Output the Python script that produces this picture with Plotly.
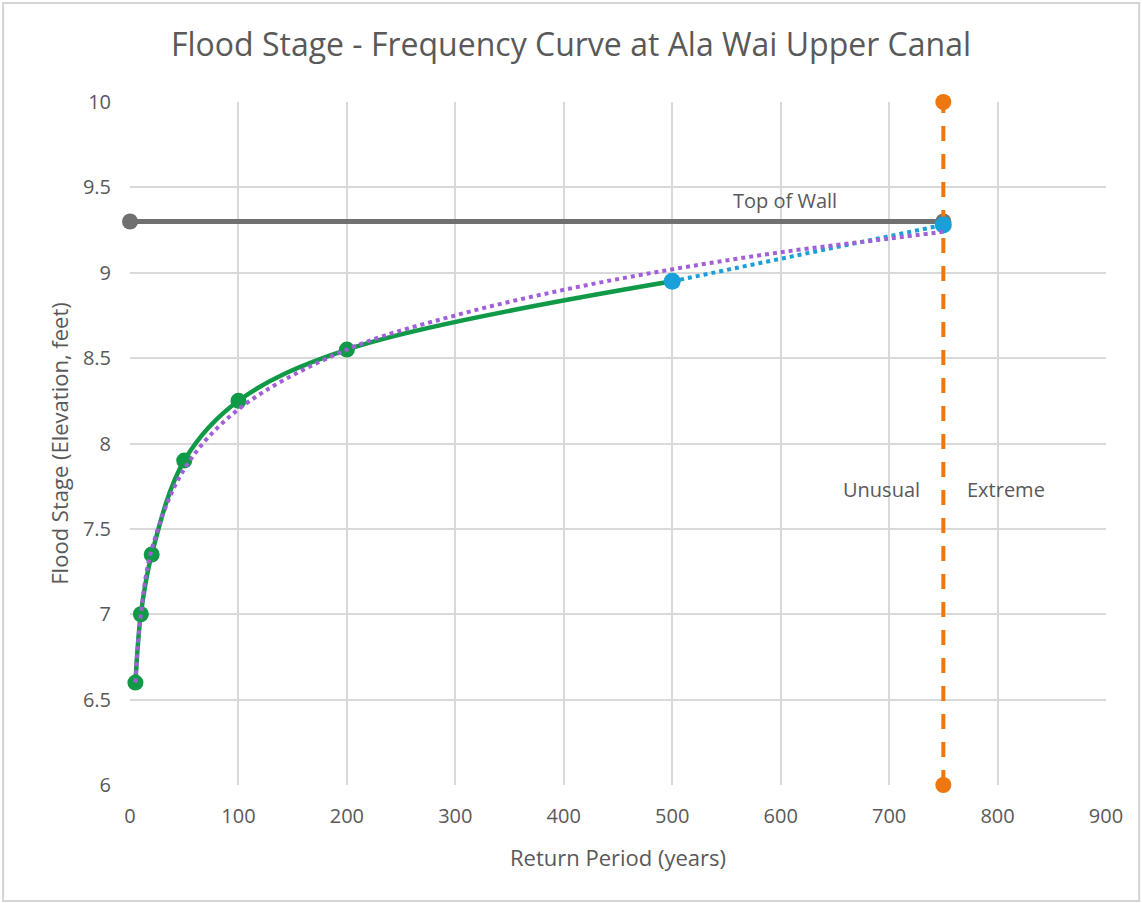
import plotly.graph_objects as go

# observed return periods and stages
green_x = [5, 10, 20, 50, 100, 200, 500]
green_y = [6.6, 7.0, 7.35, 7.9, 8.25, 8.55, 8.95]

# extrapolated segment
blue_x = [500, 750]
blue_y = [8.95, 9.28]

# trend line
trend_x = [5, 10, 20, 50, 100, 200, 300, 400, 500, 600, 700, 750]
trend_y = [6.6, 7.0, 7.38, 7.85, 8.2, 8.55, 8.75, 8.9, 9.02, 9.12, 9.2, 9.24]

wall_x = [0, 750]
wall_y = [9.3, 9.3]

limit_x = [750, 750]
limit_y = [6, 10]

font = "Open Sans, Noto Sans, sans-serif"
text_col = "#595959"

fig = go.Figure()

fig.add_trace(go.Scatter(x=wall_x, y=wall_y, mode="lines+markers", cliponaxis=False,
                         line=dict(color="#707070", width=5),
                         marker=dict(size=16, color="#707070")))
fig.add_trace(go.Scatter(x=limit_x, y=limit_y, mode="lines+markers", cliponaxis=False,
                         line=dict(color="#EE7711", width=4, dash="15px,13px"),
                         marker=dict(size=16, color="#EE7711")))
fig.add_trace(go.Scatter(x=green_x, y=green_y, mode="lines+markers", cliponaxis=False,
                         line=dict(color="#109A48", width=4.5, shape="spline"),
                         marker=dict(size=16, color="#109A48")))
fig.add_trace(go.Scatter(x=blue_x, y=blue_y, mode="lines+markers", cliponaxis=False,
                         line=dict(color="#1AA0D8", width=4, dash="dot"),
                         marker=dict(size=17, color="#1AA0D8")))
fig.add_trace(go.Scatter(x=trend_x, y=trend_y, mode="lines", cliponaxis=False,
                         line=dict(color="#A260D8", width=4, dash="dot", shape="spline")))

fig.add_annotation(x=604, y=9.426, text="Top of Wall", showarrow=False,
                   font=dict(size=20, color=text_col, family=font))
fig.add_annotation(x=693, y=7.73, text="Unusual", showarrow=False,
                   font=dict(size=20, color=text_col, family=font))
fig.add_annotation(x=808, y=7.73, text="Extreme", showarrow=False,
                   font=dict(size=20, color=text_col, family=font))

# chart area border
fig.add_shape(type="rect", xref="paper", yref="paper",
              x0=-0.130, x1=1.034, y0=-0.170, y1=1.145,
              line=dict(color="#D4D4D4", width=2), layer="below")

fig.update_layout(
    width=1142, height=903,
    margin=dict(l=130, r=36, t=102, b=118),
    paper_bgcolor="white", plot_bgcolor="white",
    showlegend=False,
    font=dict(family=font, color=text_col, size=20),
    title=dict(text="Flood Stage - Frequency Curve at Ala Wai Upper Canal",
               x=0.5, xanchor="center", y=1 - 45 / 903, yref="container", yanchor="middle",
               font=dict(size=32, color=text_col, family=font)),
)
fig.update_xaxes(range=[0, 900], dtick=100, showgrid=True, gridcolor="#D9D9D9",
                 gridwidth=2, zeroline=False, showline=False, ticks="",
                 ticklabelstandoff=17,
                 title=dict(text="Return Period (years)", font=dict(size=22), standoff=22),
                 tickfont=dict(size=20))
fig.update_yaxes(range=[6, 10], dtick=0.5, showgrid=True, gridcolor="#D9D9D9",
                 gridwidth=2, zeroline=False, showline=False, ticks="",
                 ticklabelstandoff=18,
                 title=dict(text="Flood Stage (Elevation, feet)", font=dict(size=22), standoff=8),
                 tickfont=dict(size=20))

fig.write_html("out.html", config={"displayModeBar": False},
               post_script="document.body.style.margin='0';")
